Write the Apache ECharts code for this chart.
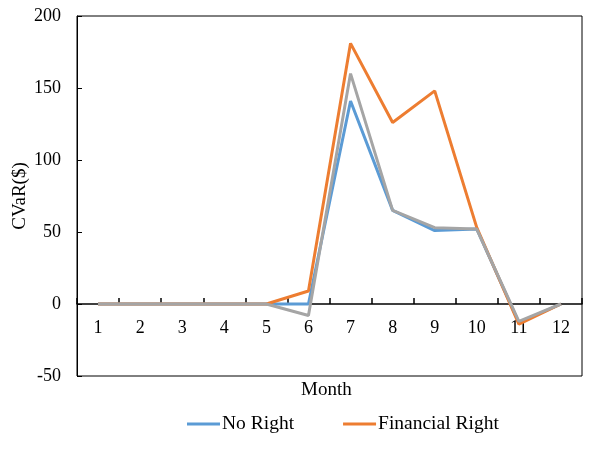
<!DOCTYPE html>
<html>
<head>
<meta charset="utf-8">
<script src="https://cdn.jsdelivr.net/npm/echarts@6/dist/echarts.min.js"></script>
<style>html,body{margin:0;padding:0;background:#fff;}#c{width:602px;height:462px;}</style>
</head>
<body>
<div id="c"></div>
<script>
const months = ['1','2','3','4','5','6','7','8','9','10','11','12'];
const noRight = [0,0,0,0,0,0,141,65,51,52,-13,0];
const financialRight = [0,0,0,0,0,9,181,126,148,53,-14,0];
const third = [0,0,0,0,0,-8,160,65,53,52,-12,0];
const yTicks = {min:-50, max:200, interval:50};

const font = '"Liberation Serif", "Times New Roman", serif';
const chart = echarts.init(document.getElementById('c'), null, {renderer:'canvas'});
chart.setOption({
  animation:false,
  backgroundColor:'#fff',
  textStyle:{fontFamily:font},
  grid:{left:77,right:20,top:16,bottom:86,show:true,borderColor:'#000',borderWidth:1,backgroundColor:'transparent',outerBoundsMode:'none',containLabel:false},
  legend:{
    data:['No Right','Financial Right'],
    top:414,left:187,padding:0,
    icon:'rect',itemWidth:33,itemHeight:3,itemGap:49,
    textStyle:{fontFamily:font,fontSize:19.5,color:'#000',padding:[0,0,0,-3]}
  },
  graphic:[
    {type:'text',left:301,top:381,style:{text:'Month',font:'19px '+font,fill:'#000'}}
  ],
  xAxis:{
    type:'category',data:months,boundaryGap:true,offset:-72,
    axisLine:{onZero:false,lineStyle:{color:'#000',width:1.5}},
    axisTick:{show:true,interval:0,alignWithLabel:false,inside:true,length:6,lineStyle:{color:'#000',width:1.5}},
    axisLabel:{fontFamily:font,fontSize:18,color:'#000',margin:15}
  },
  yAxis:{
    type:'value',min:yTicks.min,max:yTicks.max,interval:yTicks.interval,
    name:'CVaR($)',nameLocation:'middle',nameGap:47,nameMoveOverlap:false,
    nameTextStyle:{fontFamily:font,fontSize:19,color:'#000'},
    axisLine:{show:true,lineStyle:{color:'#000',width:1}},
    axisTick:{show:true,inside:true,length:5,lineStyle:{color:'#000'}},
    splitLine:{show:false},
    axisLabel:{fontFamily:font,fontSize:18,color:'#000',margin:16}
  },
  series:[
    {name:'No Right',type:'line',data:noRight,symbol:'none',lineStyle:{color:'#5B9BD5',width:3},itemStyle:{color:'#5B9BD5'}},
    {name:'Financial Right',type:'line',data:financialRight,symbol:'none',lineStyle:{color:'#ED7D31',width:3},itemStyle:{color:'#ED7D31'}},
    {name:'Other',type:'line',data:third,symbol:'none',lineStyle:{color:'#A5A5A5',width:3},itemStyle:{color:'#A5A5A5'}}
  ]
});
</script>
</body>
</html>
